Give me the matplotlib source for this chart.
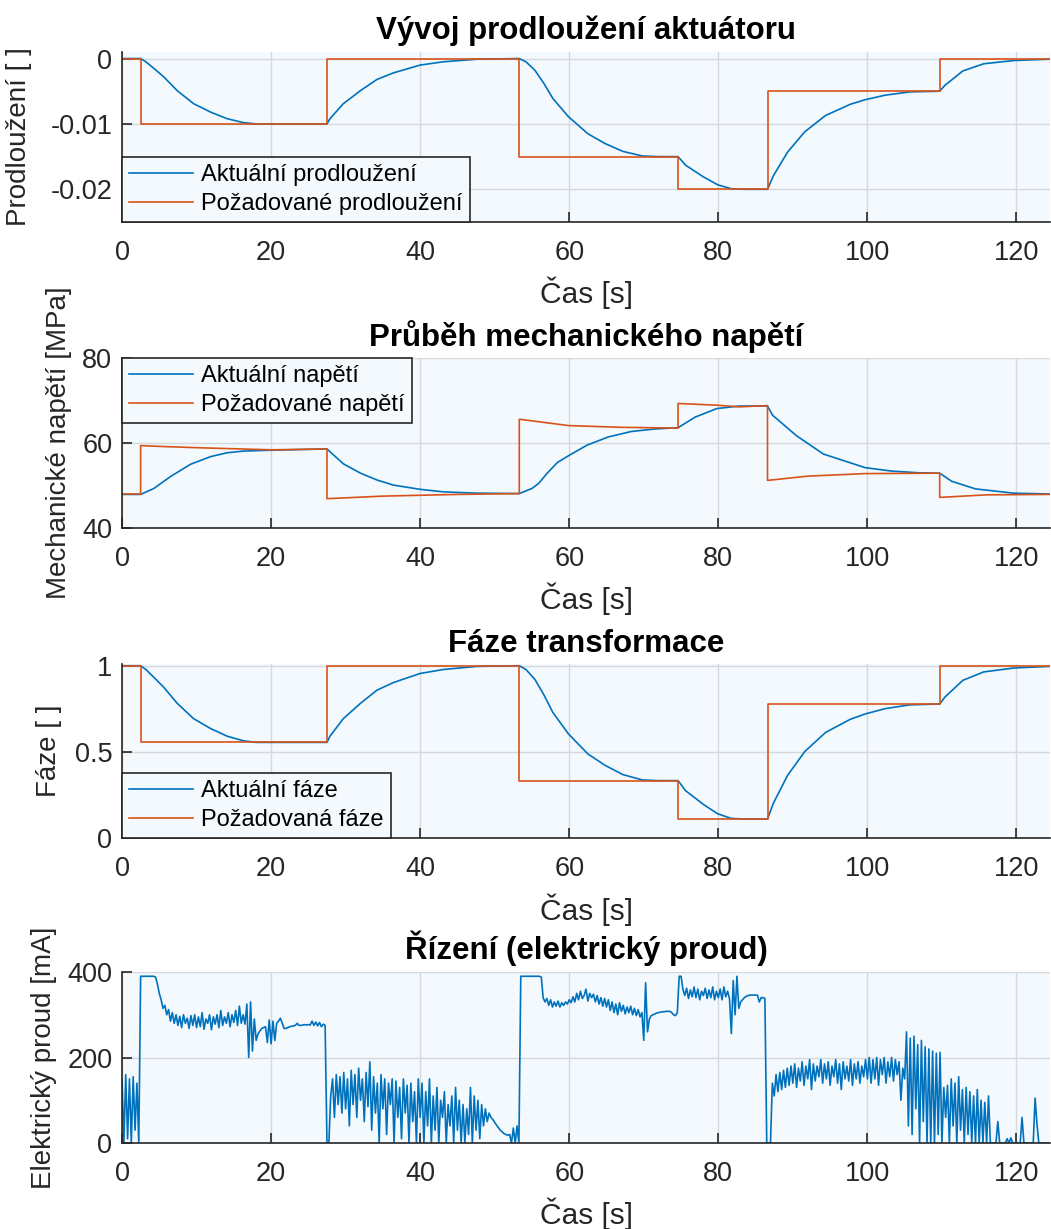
import numpy as np
import matplotlib.pyplot as plt

plt.rcParams['font.family'] = ['Liberation Sans', 'DejaVu Sans']
plt.rcParams['axes.unicode_minus'] = False

BLUE = '#0072BD'
ORANGE = '#D95319'
BG = '#F4F9FD'

# time axis of the smooth curves [s]
t_curve = [0, 2.5, 3.2, 4.27, 5.6, 7.4, 9.6, 11.9, 14.1, 16.3, 18.0, 19.9, 27.5, 27.9,
           29.7, 32.0, 34.2, 36.4, 40.0, 43.1, 47.6, 53.3, 54.2, 55.4, 56.6, 57.8, 59.9,
           62.5, 64.8, 67.2, 69.8, 72.0, 74.6, 75.6, 78.0, 79.9, 81.7, 83.5, 86.6, 87.4,
           89.3, 91.6, 94.4, 97.7, 99.7, 102.4, 105.7, 109.7, 110.4, 112.8, 115.6, 119.7, 124.4]

elong_actual = [0, 0, -0.0005, -0.0015, -0.0028, -0.0049, -0.0069, -0.0082, -0.0092, -0.0098,
                -0.0100, -0.0100, -0.0100, -0.0092, -0.0069, -0.0049, -0.0032, -0.0022, -0.0010,
                -0.0005, -0.0001, 0, -0.0005, -0.0018, -0.0038, -0.0061, -0.0089, -0.0115,
                -0.0130, -0.0142, -0.0149, -0.0150, -0.0150, -0.0163, -0.0181, -0.0193, -0.0199,
                -0.0200, -0.0200, -0.0179, -0.0143, -0.0112, -0.0087, -0.0070, -0.0063, -0.0056,
                -0.0051, -0.0050, -0.0041, -0.0019, -0.0008, -0.0003, -0.0001]

phase_actual = [1, 1, 0.978, 0.933, 0.875, 0.782, 0.693, 0.635, 0.591, 0.564, 0.555, 0.555,
                0.555, 0.591, 0.693, 0.782, 0.858, 0.902, 0.955, 0.978, 0.996, 1, 0.978, 0.92,
                0.831, 0.729, 0.604, 0.488, 0.422, 0.368, 0.337, 0.333, 0.333, 0.275, 0.195,
                0.141, 0.114, 0.11, 0.11, 0.203, 0.364, 0.502, 0.613, 0.689, 0.72, 0.751, 0.773,
                0.778, 0.818, 0.915, 0.964, 0.987, 0.996]

# step references
t_ref = [0, 2.5, 2.5, 27.5, 27.5, 53.3, 53.3, 74.6, 74.6, 86.6, 86.6, 109.7, 109.7, 124.5]
elong_ref = [0, 0, -0.01, -0.01, 0, 0, -0.015, -0.015, -0.02, -0.02, -0.005, -0.005, 0, 0]
phase_ref = [1, 1, 0.555, 0.555, 1, 1, 0.3325, 0.3325, 0.11, 0.11, 0.7775, 0.7775, 1, 1]

# mechanical stress [MPa]
stress_t = [0, 2.5, 4.27, 6.5, 9.2, 11.9, 14.1, 16.3, 19.9, 27.5, 28.5, 29.7, 32.0, 34.2, 36.4,
            40.0, 43.1, 47.6, 53.3, 55.0, 55.9, 57.0, 58.4, 59.9, 62.4, 65.2, 68.3, 71.5, 74.6,
            76.9, 79.8, 82.8, 86.6, 87.3, 90.5, 94.1, 99.7, 103.2, 106.8, 109.7, 111.3, 114.5,
            119.6, 124.4]
stress_actual = [47.9, 47.9, 49.3, 52.1, 55.0, 56.8, 57.7, 58.1, 58.3, 58.6, 57.0, 55.1, 52.9,
                 51.3, 50.1, 49.1, 48.5, 48.2, 48.1, 49.3, 50.5, 52.8, 55.4, 57.0, 59.5, 61.4,
                 62.7, 63.3, 63.6, 66.1, 68.1, 68.7, 68.7, 66.5, 61.7, 57.4, 54.2, 53.4, 53.0,
                 52.9, 51.0, 49.2, 48.2, 48.0]
stress_ref_t = [0, 2.5, 2.5, 5, 10, 20, 27.5, 27.5, 35, 45, 53.3, 53.3, 59.9, 66.8, 74.6, 74.6,
                79.8, 82.8, 86.6, 86.6, 92, 99.7, 109.7, 109.7, 116, 124.5]
stress_ref = [48, 48, 59.4, 59.2, 58.9, 58.4, 58.6, 46.9, 47.5, 47.9, 48.1, 65.6, 64.1, 63.7,
              63.5, 69.3, 68.9, 68.5, 68.8, 51.2, 52.2, 52.8, 52.9, 47.2, 47.8, 47.9]

# control current [mA], one value every 0.25 s
current_dt = 0.25
current_mA = [
    150, 0, 160, 10, 150, 0, 155, 30, 140, 0, 390, 390, 390, 390, 390, 390, 390, 390, 388, 372,
    350, 335, 315, 322, 300, 312, 285, 305, 280, 300, 275, 296, 270, 300, 280, 292, 268, 298, 275, 300,
    270, 295, 272, 305, 266, 290, 280, 300, 265, 295, 278, 300, 270, 310, 275, 295, 280, 305, 272, 300,
    282, 310, 275, 320, 280, 300, 278, 325, 200, 330, 215, 290, 240, 255, 262, 268, 270, 272, 235, 288,
    232, 285, 240, 280, 285, 292, 280, 268, 268, 270, 272, 273, 274, 275, 280, 275, 275, 276, 277, 276,
    277, 276, 285, 275, 283, 274, 282, 272, 278, 275, 0, 0, 110, 150, 60, 160, 90, 155, 70, 165,
    80, 150, 40, 170, 90, 160, 60, 175, 100, 150, 50, 165, 85, 190, 30, 155, 70, 140, 0, 160,
    80, 150, 20, 140, 90, 150, 0, 145, 60, 130, 10, 150, 70, 135, 0, 140, 50, 120, 0, 150,
    60, 140, 0, 120, 40, 150, 0, 110, 30, 130, 0, 100, 60, 120, 0, 90, 40, 110, 0, 130,
    30, 100, 0, 90, 0, 80, 20, 130, 0, 110, 30, 100, 10, 90, 40, 80, 50, 70, 60, 55,
    48, 42, 36, 30, 26, 22, 20, 18, 20, 0, 35, 0, 40, 0, 390, 390, 390, 390, 390, 390,
    390, 390, 390, 390, 390, 388, 340, 330, 338, 322, 335, 318, 330, 320, 332, 318, 328, 322, 330, 325,
    335, 328, 342, 330, 350, 335, 355, 338, 345, 360, 332, 350, 340, 348, 330, 345, 325, 340, 320, 338,
    318, 335, 310, 330, 305, 325, 300, 328, 308, 322, 302, 318, 305, 320, 300, 315, 298, 312, 295, 305,
    240, 375, 260, 290, 298, 300, 302, 304, 305, 306, 307, 307, 308, 308, 308, 305, 300, 298, 305, 390,
    390, 360, 345, 362, 338, 358, 342, 365, 340, 360, 335, 355, 345, 362, 338, 358, 340, 365, 335, 355,
    340, 360, 335, 365, 342, 355, 338, 256, 380, 300, 390, 315, 330, 335, 340, 343, 345, 346, 346, 346,
    346, 346, 330, 340, 340, 338, 0, 0, 0, 140, 110, 160, 120, 165, 125, 170, 130, 175, 135, 180,
    140, 185, 130, 175, 145, 190, 135, 180, 150, 195, 125, 185, 145, 180, 155, 195, 140, 185, 150, 190,
    135, 180, 155, 195, 140, 185, 125, 190, 150, 180, 145, 195, 135, 185, 150, 190, 140, 180, 155, 195,
    150, 200, 140, 195, 150, 200, 135, 195, 160, 200, 140, 190, 155, 200, 145, 195, 160, 190, 100, 175,
    150, 260, 40, 245, 20, 250, 80, 230, 0, 240, 50, 225, 0, 220, 0, 215, 0, 210, 20, 212,
    0, 130, 60, 135, 0, 150, 40, 140, 0, 155, 30, 125, 0, 130, 20, 120, 0, 110, 0, 125,
    0, 100, 0, 95, 0, 110, 0, 0, 0, 0, 50, 0, 0, 0, 0, 10, 0, 12, 0, 0,
    0, 0, 0, 60, 0, 0, 0, 0, 0, 0, 105, 45, 0, 0, 0, 0, 0, 0, 0,
]
current_t = np.arange(len(current_mA)) * current_dt

x_ticks = [0, 20, 40, 60, 80, 100, 120]

fig = plt.figure(figsize=(10.51, 12.29), dpi=100)
W, H = 1051, 1229


def make_axes(top, bottom):
    left, right = 122, 1050
    return fig.add_axes([left / W, 1 - bottom / H, (right - left) / W, (bottom - top) / H])


def style(ax, title, ylabel, ylab_x):
    ax.set_facecolor(BG)
    ax.set_xlim(0, 124.5)
    ax.set_xticks(x_ticks)
    ax.grid(True, color='#D5D8DC', linewidth=1.0)
    ax.set_axisbelow(True)
    for s in ['top', 'right']:
        ax.spines[s].set_visible(False)
    for s in ['left', 'bottom']:
        ax.spines[s].set_color('#262626')
        ax.spines[s].set_linewidth(1.2)
    ax.tick_params(direction='in', length=7, width=1.2, color='#262626', labelsize=19.5,
                   labelcolor='#262626')
    ax.tick_params(axis='x', pad=13)
    ax.tick_params(axis='y', pad=7)
    ax.set_title(title, fontsize=22.5, fontweight='bold', pad=9)
    ax.set_xlabel('Čas [s]', fontsize=21.5, color='#262626')
    ax.xaxis.set_label_coords(0.5, -0.32)
    ax.set_ylabel(ylabel, fontsize=20, color='#262626')
    ax.yaxis.set_label_coords(ylab_x, 0.5)


def legend(ax, loc):
    leg = ax.legend(loc=loc, bbox_to_anchor=(0, 0, 1, 1), borderaxespad=0, fontsize=17,
                    fancybox=False, framealpha=1, handlelength=2.7, handletextpad=0.35,
                    borderpad=0.3, labelspacing=0.3)
    leg.get_frame().set_edgecolor('#262626')
    leg.get_frame().set_facecolor(BG)
    leg.get_frame().set_linewidth(1.2)


# 1) elongation
ax1 = make_axes(52, 222)
ax1.plot(t_curve, elong_actual, color=BLUE, lw=1.2, label='Aktuální prodloužení')
ax1.plot(t_ref, elong_ref, color=ORANGE, lw=1.2, label='Požadované prodloužení')
ax1.set_ylim(-0.025, 0.001)
ax1.set_yticks([-0.02, -0.01, 0])
ax1.set_yticklabels(['-0.02', '-0.01', '0'])
style(ax1, 'Vývoj prodloužení aktuátoru', 'Prodloužení [ ]', -0.097)
legend(ax1, 'lower left')

# 2) stress
ax2 = make_axes(358, 528)
ax2.plot(stress_t, stress_actual, color=BLUE, lw=1.2, label='Aktuální napětí')
ax2.plot(stress_ref_t, stress_ref, color=ORANGE, lw=1.2, label='Požadované napětí')
ax2.set_ylim(40, 80)
ax2.set_yticks([40, 60, 80])
style(ax2, 'Průběh mechanického napětí', 'Mechanické napětí [MPa]', -0.054)
legend(ax2, 'upper left')

# 3) phase
ax3 = make_axes(664, 838)
ax3.plot(t_curve, phase_actual, color=BLUE, lw=1.2, label='Aktuální fáze')
ax3.plot(t_ref, phase_ref, color=ORANGE, lw=1.2, label='Požadovaná fáze')
ax3.set_ylim(0, 1.01)
ax3.set_yticks([0, 0.5, 1])
ax3.set_yticklabels(['0', '0.5', '1'])
style(ax3, 'Fáze transformace', 'Fáze [ ]', -0.065)
legend(ax3, 'lower left')

# 4) control current
ax4 = make_axes(972, 1143)
ax4.plot(current_t, current_mA, color=BLUE, lw=1.2)
ax4.set_ylim(0, 400)
ax4.set_yticks([0, 200, 400])
style(ax4, 'Řízení (elektrický proud)', 'Elektrický proud [mA]', -0.07)

fig.savefig('out.png', dpi=100)
